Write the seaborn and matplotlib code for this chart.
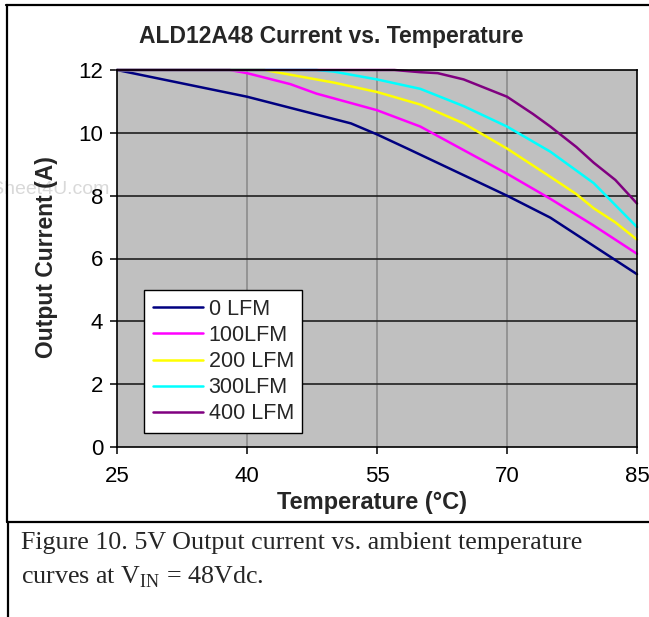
import numpy as np
import pandas as pd
import matplotlib
matplotlib.use("Agg")
import matplotlib.pyplot as plt
from matplotlib.lines import Line2D
import seaborn as sns

# ---- data ----
series_names = ["0 LFM", "100LFM", "200 LFM", "300LFM", "400 LFM"]
series_colors = ["#000080", "#FF00FF", "#FFFF00", "#00FFFF", "#800080"]

t_0 = [25, 40, 52, 55, 58.5, 70, 75, 80, 85]
i_0 = [12, 11.15, 10.3, 9.95, 9.5, 8.0, 7.3, 6.4, 5.5]

t_100 = [25, 38, 40, 45, 48, 55, 60, 65, 70, 75, 80, 85]
i_100 = [12, 12, 11.9, 11.55, 11.25, 10.72, 10.2, 9.45, 8.7, 7.9, 7.05, 6.15]

t_200 = [25, 42, 45, 50, 55, 60, 65, 70, 75, 78, 80, 82.5, 85]
i_200 = [12, 12, 11.85, 11.6, 11.3, 10.9, 10.3, 9.5, 8.6, 8.05, 7.6, 7.15, 6.6]

t_300 = [25, 48, 50, 55, 60, 65, 70, 75, 80, 82.5, 85]
i_300 = [12, 12, 11.95, 11.7, 11.4, 10.85, 10.2, 9.4, 8.4, 7.7, 7.0]

t_400 = [25, 57, 60, 62, 65, 70, 73, 75, 78, 80, 82.5, 85]
i_400 = [12, 12, 11.93, 11.9, 11.7, 11.15, 10.6, 10.2, 9.55, 9.05, 8.5, 7.75]

x_ticks = [25, 40, 55, 70, 85]
y_ticks = [0, 2, 4, 6, 8, 10, 12]

title = "ALD12A48 Current vs. Temperature"
x_label = "Temperature (°C)"
y_label = "Output Current (A)"
caption_1 = "Figure 10. 5V Output current vs. ambient temperature"
caption_2 = r"curves at V$_{\mathrm{IN}}$ = 48Vdc."

frames = []
for name, t, i in zip(series_names,
                      [t_0, t_100, t_200, t_300, t_400],
                      [i_0, i_100, i_200, i_300, i_400]):
    frames.append(pd.DataFrame({"T": t, "I": i, "series": name}))
df = pd.concat(frames, ignore_index=True)

# ---- style ----
sns.set_style("white")
plt.rcParams["font.family"] = ["Liberation Sans", "DejaVu Sans"]
plt.rcParams["mathtext.fontset"] = "custom"
plt.rcParams["mathtext.rm"] = "Liberation Serif"

W, H = 649, 617
fig = plt.figure(figsize=(W / 100, H / 100), dpi=100)
ax = fig.add_axes([117 / W, 1 - 447 / H, (637 - 117) / W, (447 - 70) / H])
ax.set_facecolor("#C0C0C0")

sns.lineplot(data=df, x="T", y="I", hue="series", hue_order=series_names,
             palette=series_colors, estimator=None, sort=True, linewidth=1.8,
             ax=ax, legend=True)
for ln in ax.get_lines():
    ln.set_clip_on(False)
    ln.set_solid_joinstyle("round")

ax.set_xlim(25, 85)
ax.set_ylim(0, 12)
ax.set_xticks(x_ticks)
ax.set_yticks(y_ticks)
ax.set_xticklabels([str(v) for v in x_ticks])
ax.set_yticklabels([str(v) for v in y_ticks])

for v in [40, 55, 70]:
    ax.axvline(v, color="#8C8C8C", lw=1.2, zorder=0.5)
for v in [2, 4, 6, 8, 10]:
    ax.axhline(v, color="#202020", lw=1.2, zorder=0.5)

for s in ax.spines.values():
    s.set_color("black")
    s.set_linewidth(1.2)
    s.set_visible(True)

ax.tick_params(axis="both", direction="out", length=5, width=1.1,
               colors="black", labelsize=16)
ax.tick_params(axis="x", pad=9)
ax.tick_params(axis="y", pad=5)
ax.tick_params(left=True, bottom=True)

ax.set_xlabel("")
ax.set_ylabel("")

leg = ax.legend(loc="lower left", bbox_to_anchor=(0.052, 0.037),
                fontsize=15.5, frameon=True, fancybox=False, framealpha=1,
                edgecolor="black", borderpad=0.4, labelspacing=0.24,
                handlelength=2.35, handletextpad=0.25, borderaxespad=0)
leg.get_frame().set_linewidth(1.0)
for h in leg.get_lines():
    h.set_linewidth(1.8)

# titles and labels
fig.text(331 / W, 1 - 36 / H, title, ha="center", va="center",
         fontsize=16.5, fontweight="bold")
fig.text(372 / W, 1 - 503 / H, x_label, ha="center", va="center",
         fontsize=17, fontweight="bold")
fig.text(47 / W, 1 - 257 / H, y_label, ha="center", va="center",
         rotation=90, fontsize=16.5, fontweight="bold")

# faint watermark
fig.text(109 / W, 1 - 189 / H, "www.DataSheet4U.com", ha="right", va="center",
         fontsize=14, color="#D9D9D9", zorder=-1)

# caption
fig.text(21 / W, 1 - 549 / H, caption_1,
         ha="left", va="baseline", fontsize=18.7, family="Liberation Serif")
fig.text(21 / W, 1 - 583 / H, caption_2,
         ha="left", va="baseline", fontsize=18.7, family="Liberation Serif")

# frame lines of the original document box
def px_line(x0, y0, x1, y1, lw=1.6):
    fig.add_artist(Line2D([x0 / W, x1 / W], [1 - y0 / H, 1 - y1 / H],
                          transform=fig.transFigure, color="black", lw=lw))

px_line(6, 4.5, 649, 4.5)
px_line(7, 4.5, 7, 522)
px_line(7, 522, 649, 522)
px_line(8, 522, 8, 617)

fig.savefig("out.png", dpi=100)
